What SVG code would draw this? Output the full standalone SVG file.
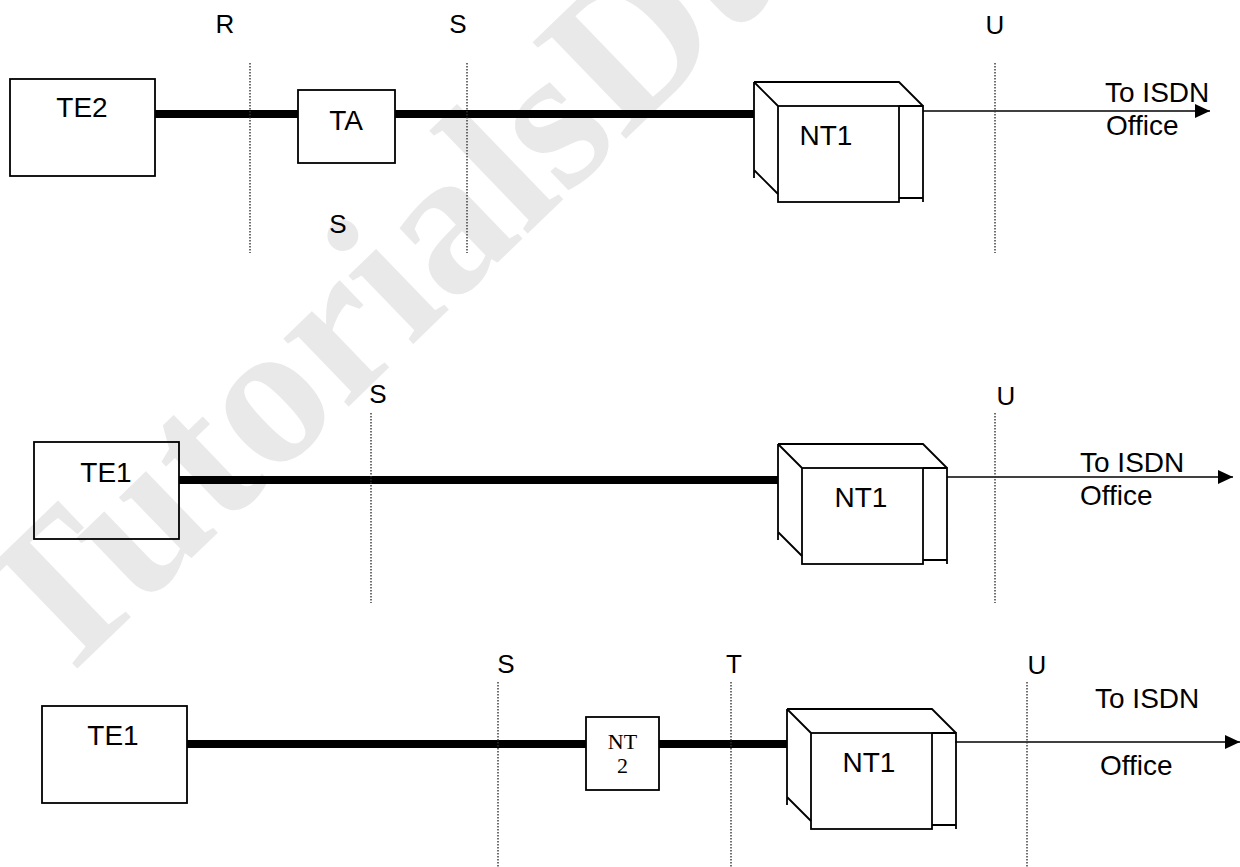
<svg xmlns="http://www.w3.org/2000/svg" xmlns:xlink="http://www.w3.org/1999/xlink" width="1240" height="867" viewBox="0 0 1240 867">
<style>
.box{fill:none;stroke:#000;stroke-width:1.8}
.nt{fill:none;stroke:#000;stroke-width:1.8}
.thick{stroke:#000;stroke-width:8;fill:none}
.thin{stroke:#000;stroke-width:1.6;fill:none}
.dot{stroke:#333;stroke-width:1.4;stroke-dasharray:1.5 1.5;fill:none}
.lbl{font-family:"Liberation Sans",Arial,sans-serif;font-size:26px;text-anchor:middle;fill:#000}
.txt{font-family:"Liberation Sans",Arial,sans-serif;font-size:28px;text-anchor:middle;fill:#000}
.off{font-family:"Liberation Sans",Arial,sans-serif;font-size:28px;fill:#000}
.ser{font-family:"Liberation Serif","Times New Roman",serif;font-size:22px;text-anchor:middle;fill:#000}
.wm{font-family:"Liberation Serif","Times New Roman",serif;font-weight:bold;font-size:205px;fill:#e9e9e9}
</style>
<defs>
<marker id="arr" viewBox="0 0 15 14" refX="15" refY="7" markerWidth="15" markerHeight="14" markerUnits="userSpaceOnUse" orient="auto">
<path d="M0,0 L15,7 L0,14 z" fill="#000"/>
</marker>
<g id="nt1shape">
<path class="nt" d="M0,0 H145 L169,24 M0,0 L24,24 M0,0 V96 M0,88 L24,112 M145,24 H169 V120 M145,116 H169"/>
<rect class="nt" x="24" y="24" width="121" height="96"/>
</g>
</defs>
<rect width="1240" height="867" fill="#fff"/>
<text class="wm" transform="translate(55,690) rotate(-44)">TutorialsDuniya</text>

<g id="connectors">
<line class="thick" x1="155" y1="114" x2="298" y2="114"/>
<line class="thick" x1="395" y1="114" x2="754" y2="114"/>
<line class="thin" x1="923" y1="111" x2="1210" y2="111" marker-end="url(#arr)"/>
<line class="thick" x1="179" y1="480" x2="778" y2="480"/>
<line class="thin" x1="947" y1="477" x2="1233" y2="477" marker-end="url(#arr)"/>
<line class="thick" x1="187" y1="744" x2="586" y2="744"/>
<line class="thick" x1="659" y1="744" x2="787" y2="744"/>
<line class="thin" x1="955" y1="742" x2="1240" y2="742" marker-end="url(#arr)"/>
</g>

<g id="ref-points">
<line class="dot" x1="250" y1="63" x2="250" y2="253"/>
<line class="dot" x1="467" y1="63" x2="467" y2="253"/>
<line class="dot" x1="995" y1="63" x2="995" y2="253"/>
<line class="dot" x1="371" y1="413" x2="371" y2="603"/>
<line class="dot" x1="995" y1="413" x2="995" y2="603"/>
<line class="dot" x1="498" y1="682" x2="498" y2="867"/>
<line class="dot" x1="731" y1="682" x2="731" y2="867"/>
<line class="dot" x1="1027" y1="682" x2="1027" y2="867"/>
<text class="lbl" x="225" y="33">R</text>
<text class="lbl" x="458" y="33">S</text>
<text class="lbl" x="995" y="34">U</text>
<text class="lbl" x="338" y="233">S</text>
<text class="lbl" x="378" y="403">S</text>
<text class="lbl" x="1006" y="405">U</text>
<text class="lbl" x="506" y="673">S</text>
<text class="lbl" x="734" y="673">T</text>
<text class="lbl" x="1037" y="674">U</text>
</g>

<g id="te2">
<rect class="box" x="10" y="79" width="145" height="97"/>
<text class="txt" x="82" y="117">TE2</text>
</g>
<g id="ta">
<rect class="box" x="298" y="90" width="97" height="73"/>
<text class="txt" x="346" y="130">TA</text>
</g>
<g id="nt1-a">
<use xlink:href="#nt1shape" transform="translate(754,82)"/>
<text class="txt" x="826" y="145">NT1</text>
</g>
<g id="isdn-a">
<text class="off" x="1105" y="102">To ISDN</text>
<text class="off" x="1106" y="135">Office</text>
</g>

<g id="te1-b">
<rect class="box" x="34" y="442" width="145" height="97"/>
<text class="txt" x="106" y="482">TE1</text>
</g>
<g id="nt1-b">
<use xlink:href="#nt1shape" transform="translate(778,444)"/>
<text class="txt" x="861" y="507">NT1</text>
</g>
<g id="isdn-b">
<text class="off" x="1080" y="472">To ISDN</text>
<text class="off" x="1080" y="505">Office</text>
</g>

<g id="te1-c">
<rect class="box" x="42" y="706" width="145" height="97"/>
<text class="txt" x="113" y="745">TE1</text>
</g>
<g id="nt2">
<rect class="box" x="586" y="717" width="73" height="73"/>
<text class="ser" x="622.5" y="749">NT</text>
<text class="ser" x="622.5" y="773">2</text>
</g>
<g id="nt1-c">
<use xlink:href="#nt1shape" transform="translate(787,709)"/>
<text class="txt" x="869" y="772">NT1</text>
</g>
<g id="isdn-c">
<text class="off" x="1095" y="708">To ISDN</text>
<text class="off" x="1100" y="775">Office</text>
</g>
</svg>
